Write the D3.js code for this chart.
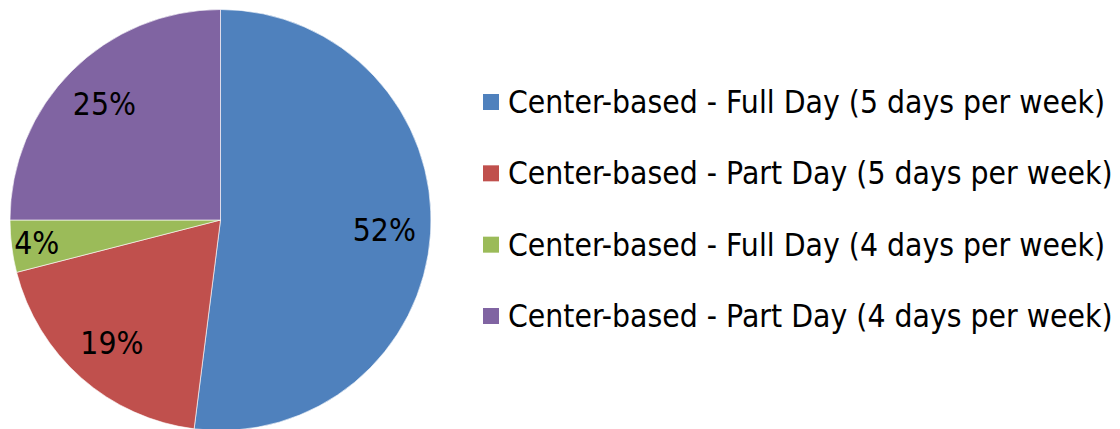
<!DOCTYPE html>
<html>
<head>
<meta charset="utf-8">
<script src="https://cdn.jsdelivr.net/npm/d3@7"></script>
<style>
  body { margin: 0; background: #fff; }
  text { font-family: "DejaVu Sans", Verdana, sans-serif; fill: #000; }
</style>
</head>
<body>
<div class="pie-chart"></div>
<script>
// chart data
const categories = [
  'Center-based - Full Day (5 days per week)',
  'Center-based - Part Day (5 days per week)',
  'Center-based - Full Day (4 days per week)',
  'Center-based - Part Day (4 days per week)'
];
const values = [52, 19, 4, 25];
const colors = ['#4F81BD', '#C0504D', '#9BBB59', '#8064A2'];

const width = 1120, height = 429;
const cx = 220.5, cy = 220, radius = 210.5;
const fontSize = 32;

const svg = d3.select('.pie-chart')
              .append('svg')
              .attr('width', width)
              .attr('height', height);

const pie = d3.pie().sort(null).value(function(d) { return d; });
const arcs = pie(values);
const arc = d3.arc().innerRadius(0).outerRadius(radius);

const g = svg.append('g').attr('transform', 'translate(' + cx + ',' + cy + ')');

// slices
g.selectAll('.slice').data(arcs).enter().append('path')
  .attr('class', 'slice')
  .attr('d', arc)
  .attr('fill', function(d, i) { return colors[i]; })
  .attr('stroke', '#ffffff')
  .attr('stroke-opacity', 0.6)
  .attr('stroke-width', 1);

// percent labels, small slices pushed further out
function labelArc(d) {
  const share = (d.endAngle - d.startAngle) / (2 * Math.PI);
  const r = radius * (share < 0.06 ? 0.88 : 0.78);
  return d3.arc().innerRadius(r).outerRadius(r).centroid(d);
}

g.selectAll('.label').data(arcs).enter().append('text')
  .attr('class', 'label')
  .attr('x', function(d) { return labelArc(d)[0]; })
  .attr('y', function(d) { return labelArc(d)[1]; })
  .attr('text-anchor', 'middle')
  .attr('dominant-baseline', 'central')
  .style('font-size', fontSize + 'px')
  .text(function(d) { return d.data + '%'; });

// legend
const legendY = d3.scalePoint().domain(categories).range([102, 316]);
const legend = svg.append('g').attr('class', 'legend');

const items = legend.selectAll('.item').data(categories).enter().append('g')
  .attr('class', 'item')
  .attr('transform', function(d) { return 'translate(483,' + legendY(d) + ')'; });

items.append('rect')
  .attr('x', 0).attr('y', -8)
  .attr('width', 16).attr('height', 16)
  .attr('fill', function(d, i) { return colors[i]; });

const legendText = items.append('text')
  .attr('x', 25)
  .attr('dominant-baseline', 'central')
  .style('font-size', fontSize + 'px')
  .text(function(d) { return d; });

// squeeze text to match the narrower Tahoma-like face
const natural = legendText.node().getComputedTextLength();
const squeeze = 597 / natural;
svg.selectAll('text').each(function() {
  const len = this.getComputedTextLength();
  d3.select(this).attr('textLength', len * squeeze).attr('lengthAdjust', 'spacingAndGlyphs');
});
</script>
</body>
</html>
